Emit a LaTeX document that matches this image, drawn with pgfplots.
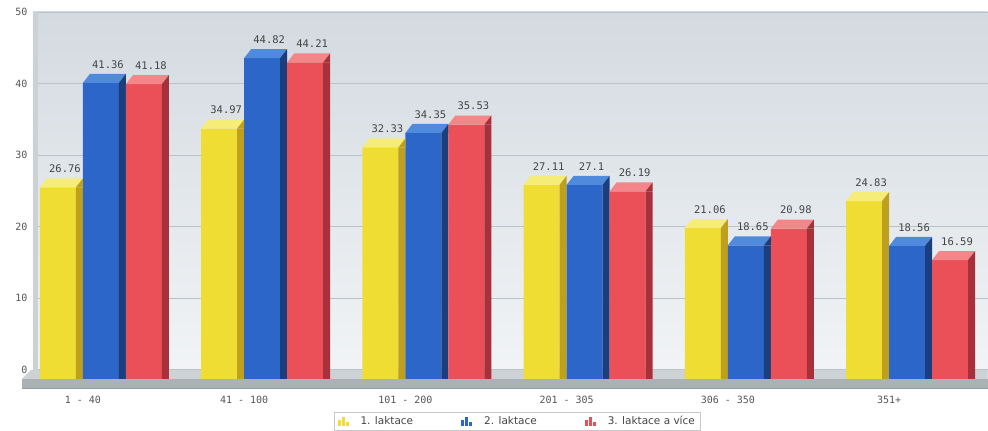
\documentclass[border=0pt]{standalone}
\usepackage{pgfplots}
\usepackage{pgfplotstable}
\pgfplotsset{compat=1.18}
\usepackage{fontspec}
\setmainfont{DejaVu Sans}
\newfontfamily\monof{DejaVu Sans Mono}

\definecolor{bgtop}{HTML}{D3DAE0}
\definecolor{bgbot}{HTML}{F3F5F7}
\definecolor{gridc}{HTML}{BCC3C8}
\definecolor{floortop}{HTML}{CDD2D4}
\definecolor{floorfront}{HTML}{AAB2B5}
\definecolor{floordark}{HTML}{959FA3}
\definecolor{wallc}{HTML}{CBD1D5}
\definecolor{yF}{HTML}{F0DD34}\definecolor{yS}{HTML}{BFA01E}\definecolor{yT}{HTML}{F6EC78}
\definecolor{bF}{HTML}{2C66C8}\definecolor{bS}{HTML}{1B3E7C}\definecolor{bT}{HTML}{4F8ADD}
\definecolor{rF}{HTML}{EB5058}\definecolor{rS}{HTML}{A8303A}\definecolor{rT}{HTML}{F4868A}
\definecolor{tickc}{HTML}{555555}
\definecolor{labc}{HTML}{444444}
\definecolor{legb}{HTML}{C8C8C8}

\newcommand\capmark[3]{%
\pgfdeclareplotmark{#1}{%
  \pgfsetfillcolor{#2}%
  \pgfpathmoveto{\pgfqpoint{-18pt}{0pt}}%
  \pgfpathlineto{\pgfqpoint{18pt}{0pt}}%
  \pgfpathlineto{\pgfqpoint{25pt}{9pt}}%
  \pgfpathlineto{\pgfqpoint{-11pt}{9pt}}%
  \pgfpathclose
  \pgfusepath{fill}%
  \pgfsetfillcolor{#3}%
  \pgfpathmoveto{\pgfqpoint{18pt}{0pt}}%
  \pgfpathlineto{\pgfqpoint{25pt}{9pt}}%
  \pgfpathlineto{\pgfqpoint{25pt}{0pt}}%
  \pgfpathclose
  \pgfusepath{fill}%
}}
\capmark{capY}{yT}{yS}
\capmark{capB}{bT}{bS}
\capmark{capR}{rT}{rS}

\pgfplotstableread{
x y b r
0 26.76 41.36 41.18
1 34.97 44.82 44.21
2 32.33 34.35 35.53
3 27.11 27.1 26.19
4 21.06 18.65 20.98
5 24.83 18.56 16.59
}\data

\begin{document}
\begin{tikzpicture}
\begin{axis}[
  width=955pt, height=377pt, scale only axis,
  xmin=-0.4216, xmax=5.499, ymin=-1.4, ymax=51.257,
  axis line style={draw=none},
  major tick length=0pt,
  /pgf/number format/assume math mode=true,
  xtick={0,1,2,3,4,5},
  xticklabels={1 - 40, 41 - 100, 101 - 200, 201 - 305, 306 - 350, 351+},
  xticklabel style={xshift=-18pt, yshift=-4pt, font=\monof\fontsize{10}{12}\selectfont, text=tickc},
  ytick={1.257,11.257,21.257,31.257,41.257,51.257},
  yticklabels={0,10,20,30,40,50},
  yticklabel style={xshift=-2pt, font=\monof\fontsize{10}{12}\selectfont, text=tickc},
  ymajorgrids, grid style={gridc, line width=0.6pt},
  axis background/.style={top color=bgtop, bottom color=bgbot},
  clip=false,
  nodes near coords style={font=\monof\fontsize{10.5}{12}\selectfont, text=labc, anchor=south, yshift=11pt},
  legend cell align=left,
  legend style={at={(0.5073,-0.061)}, anchor=north, legend columns=3, draw=legb, fill=white,
    font=\fontsize{10.5}{12}\selectfont, text=labc, inner xsep=3pt, inner ysep=2pt,
    /tikz/every odd column/.append style={column sep=10pt},
    /tikz/every even column/.append style={column sep=46pt}},
]
\coordinate (O) at (rel axis cs:0,0);
\fill[wallc] (rel axis cs:0,0) rectangle ([xshift=5pt]rel axis cs:0,1);
\fill[floortop] ([xshift=-11pt]axis cs:-0.4216,0) -- ([xshift=-2pt]axis cs:-0.4216,1.257) -- (axis cs:5.499,1.257) -- (axis cs:5.499,0) -- cycle;
\fill[floorfront] ([xshift=-11pt]axis cs:-0.4216,-1.4) rectangle (axis cs:5.499,0);
\draw[floordark, line width=1pt] ([xshift=-11pt]axis cs:-0.4216,-1.4) -- (axis cs:5.499,-1.4);

% yellow
\addplot[ybar, bar width=36pt, bar shift=-43pt, draw=none, fill=yF,
  nodes near coords, every node near coord/.append style={xshift=-36pt},
  legend image code/.code={\fill[yF] (0pt,-5pt) rectangle (3pt,1pt); \fill[yF] (4pt,-5pt) rectangle (7pt,4pt); \fill[yF] (8pt,-5pt) rectangle (11pt,-1pt);}]
  table[x=x,y=y]{\data};
\addlegendentry{1. laktace}
\addplot[ybar, bar width=7pt, bar shift=-21.5pt, draw=none, fill=yS, forget plot] table[x=x,y=y]{\data};
\addplot[only marks, mark=capY, mark options={xshift=-43pt}, forget plot] table[x=x,y=y]{\data};
% blue
\addplot[ybar, bar width=36pt, bar shift=0pt, draw=none, fill=bF,
  nodes near coords, every node near coord/.append style={xshift=7pt},
  legend image code/.code={\fill[bF] (0pt,-5pt) rectangle (3pt,1pt); \fill[bF] (4pt,-5pt) rectangle (7pt,4pt); \fill[bF] (8pt,-5pt) rectangle (11pt,-1pt);}]
  table[x=x,y=b]{\data};
\addlegendentry{2. laktace}
\addplot[ybar, bar width=7pt, bar shift=21.5pt, draw=none, fill=bS, forget plot] table[x=x,y=b]{\data};
\addplot[only marks, mark=capB, forget plot] table[x=x,y=b]{\data};
% red
\addplot[ybar, bar width=36pt, bar shift=43pt, draw=none, fill=rF,
  nodes near coords, every node near coord/.append style={xshift=50pt},
  legend image code/.code={\fill[rF] (0pt,-5pt) rectangle (3pt,1pt); \fill[rF] (4pt,-5pt) rectangle (7pt,4pt); \fill[rF] (8pt,-5pt) rectangle (11pt,-1pt);}]
  table[x=x,y=r]{\data};
\addlegendentry{3. laktace a více}
\addplot[ybar, bar width=7pt, bar shift=64.5pt, draw=none, fill=rS, forget plot] table[x=x,y=r]{\data};
\addplot[only marks, mark=capR, mark options={xshift=43pt}, forget plot] table[x=x,y=r]{\data};
\end{axis}
\path (O) ++(-33pt,-41pt) rectangle ++(988pt,430pt);
\end{tikzpicture}
\end{document}
